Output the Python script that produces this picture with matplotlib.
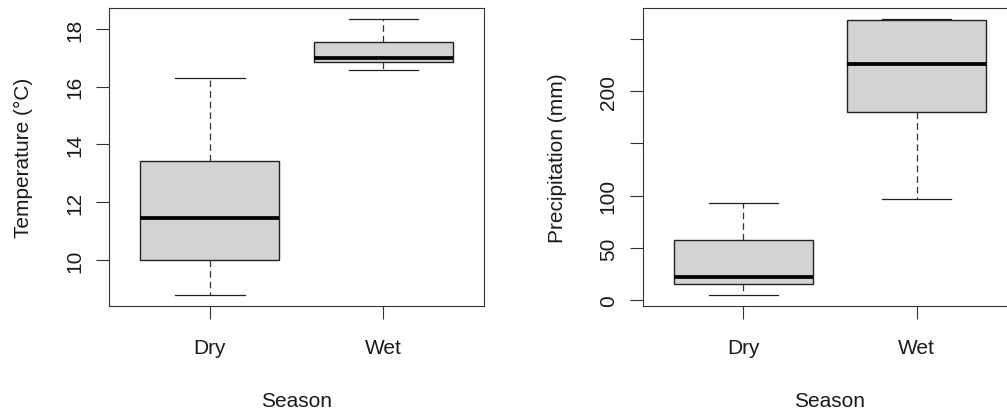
import matplotlib
matplotlib.use("Agg")
import matplotlib.pyplot as plt

plt.rcParams['font.family'] = ['Liberation Sans', 'DejaVu Sans']
plt.rcParams['font.size'] = 15

# box statistics
seasons = ['Dry', 'Wet']

temp_low = [8.79, 16.59]
temp_q1 = [10.00, 16.87]
temp_med = [11.46, 16.99]
temp_q3 = [13.41, 17.54]
temp_high = [16.31, 18.34]

prec_low = [5.1, 97.0]
prec_q1 = [15.3, 180.0]
prec_med = [22.6, 226.0]
prec_q3 = [57.6, 268.0]
prec_high = [93.3, 269.0]

temp_ticks = [10, 12, 14, 16, 18]
temp_ticklabels = ['10', '12', '14', '16', '18']
prec_ticks = [0, 50, 100, 150, 200, 250]
prec_ticklabels = ['0', '50', '100', '', '200', '']

TXT = '#1a1a1a'


def make_stats(lo, q1, med, q3, hi):
    out = []
    for i in range(len(lo)):
        out.append(dict(whislo=lo[i], q1=q1[i], med=med[i], q3=q3[i],
                        whishi=hi[i], fliers=[]))
    return out


def r_boxplot(ax, stats, ticks, ticklabels, ylabel):
    ax.bxp(stats, positions=[1, 2], widths=0.8, capwidths=0.4,
           patch_artist=True, showfliers=False,
           boxprops=dict(facecolor='#d3d3d3', edgecolor='#222222', linewidth=1.0),
           medianprops=dict(color='black', linewidth=2.7, solid_capstyle='butt'),
           whiskerprops=dict(color='#333333', linewidth=0.9, linestyle=(0, (5.3, 3.2))),
           capprops=dict(color='#222222', linewidth=0.9))
    # R style range padding of 4%
    lo = min(s['whislo'] for s in stats)
    hi = max(s['whishi'] for s in stats)
    ext = (hi - lo) * 0.04
    ax.set_ylim(lo - ext, hi + ext)
    ax.set_xlim(0.42, 2.58)
    ax.set_xticks([1, 2])
    ax.set_xticklabels(seasons)
    ax.set_yticks(ticks)
    ax.set_yticklabels(ticklabels, rotation=90, va='center')
    ax.tick_params(axis='both', length=9.5, width=0.8, color='#333333',
                   labelcolor=TXT, labelsize=15)
    ax.tick_params(axis='y', pad=8.5)
    ax.tick_params(axis='x', pad=13.3)
    for sp in ax.spines.values():
        sp.set_linewidth(0.8)
        sp.set_color('#333333')
    ax.set_xlabel('Season', color=TXT, labelpad=25)
    ax.set_ylabel(ylabel, color=TXT, labelpad=23)


fig = plt.figure(figsize=(10.07, 4.10), dpi=100)
ax1 = fig.add_axes([0.1085, 0.2512, 0.3721, 0.7268])
ax2 = fig.add_axes([0.6382, 0.2512, 0.3721, 0.7268])

r_boxplot(ax1, make_stats(temp_low, temp_q1, temp_med, temp_q3, temp_high),
          temp_ticks, temp_ticklabels, 'Temperature (°C)')
r_boxplot(ax2, make_stats(prec_low, prec_q1, prec_med, prec_q3, prec_high),
          prec_ticks, prec_ticklabels, 'Precipitation (mm)')

fig.savefig('out.png', dpi=100)
